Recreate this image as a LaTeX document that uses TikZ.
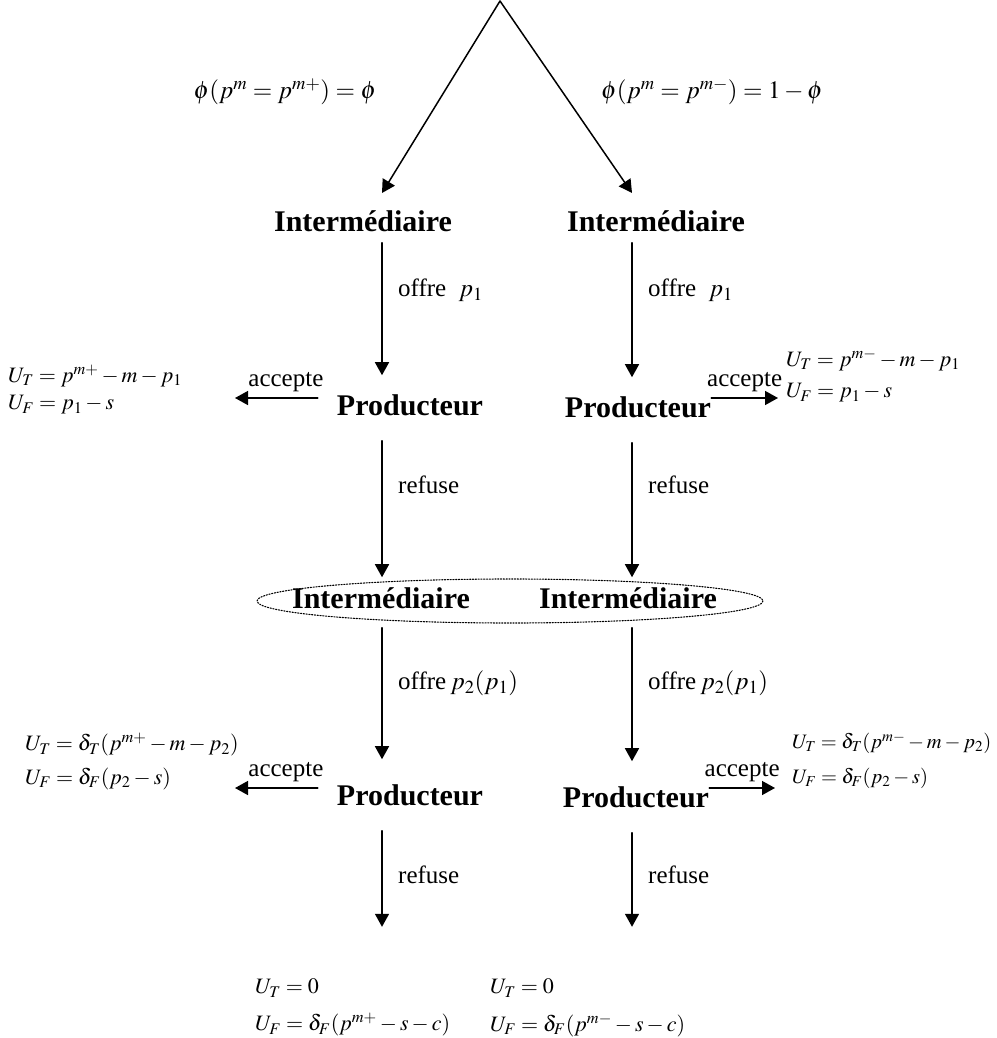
\documentclass[tikz,border=0pt]{standalone}
\usepackage{amsmath}
\usepackage{mathptmx}
\usepackage[no-math]{fontspec}
\setmainfont{Liberation Serif}
\usetikzlibrary{arrows.meta}

\begin{document}
\begin{tikzpicture}[x=1pt,y=-1pt,line cap=round,line join=round,
    >={Triangle[length=13pt,width=14pt]},
    arr/.style={->,line width=1.5pt},
    actor/.style={font=\fontsize{30}{34}\selectfont\bfseries,inner sep=0pt},
    lab/.style={font=\fontsize{25}{28}\selectfont,inner sep=0pt},
    pay/.style={font=\fontsize{22}{26}\selectfont,inner sep=0pt,anchor=west}]
        \useasboundingbox (0,0) rectangle (996,1038);
        % columns of the two branches
        \coordinate (cl) at (382,0);
        \coordinate (cr) at (632,0);
        \coordinate (apex) at (500,1);
        \coordinate (tl) at (382,193);
        \coordinate (tr) at (632,193);
        \node[lab] (phl) at (285,92) {$\phi(p^m = p^{m+}) = \phi$};
        \node[lab] (phr) at (712,92) {$\phi(p^m = p^{m-}) = 1-\phi$};
        \draw [arr] (apex) -- (tl);
        \draw [arr] (apex) -- (tr);
        % first offer
        \node[actor] (int1) at (363,221) {Intermédiaire};
        \node[actor] (int2) at (656,221) {Intermédiaire};
        \node[actor] (pro1) at (410,405) {Producteur};
        \node[actor] (pro2) at (638,407) {Producteur};
        \draw [arr,shorten <=11pt,shorten >=19pt] (int1.south -| cl) -- (pro1.north -| cl);
        \draw [arr,shorten <=11pt,shorten >=19pt] (int2.south -| cr) -- (pro2.north -| cr);
        \node[lab,anchor=west] (of1) at (398,290) {offre\enspace$p_1$};
        \node[lab,anchor=west] (of2) at (648,290) {offre\enspace$p_1$};
        \coordinate (al1) at (235,398);
        \coordinate (ar1) at (778,398);
        \draw [arr,shorten <=19pt] (pro1.west |- al1) -- node[lab,above=5pt] (acc1) {accepte} (al1);
        \draw [arr] (pro2.east |- ar1) -- node[lab,above=5pt] (acc2) {accepte} (ar1);
        \node[pay] (ut1) at (8,376) {$U_T = p^{m+} - m - p_1$};
        \node[pay] (uf1) at (8,405) {$U_F = p_1 - s$};
        \node[pay] (ut2) at (786,360) {$U_T = p^{m-} - m - p_1$};
        \node[pay] (uf2) at (786,393) {$U_F = p_1 - s$};
        % second offer
        \node[actor] (int3) at (381,598) {Intermédiaire};
        \node[actor] (int4) at (628,598) {Intermédiaire};
        \draw [dash pattern=on 1.2pt off 1.6pt,line width=1.1pt] (510,601) ellipse [x radius=253,y radius=22];
        \draw [arr,shorten <=25pt,shorten >=10pt] (pro1.south -| cl) -- (int3.north -| cl);
        \draw [arr,shorten <=25pt,shorten >=10pt] (pro2.south -| cr) -- (int4.north -| cr);
        \node[lab,anchor=west] (rf1) at (398,485) {refuse};
        \node[lab,anchor=west] (rf2) at (648,485) {refuse};
        \node[actor] (pro3) at (410,795) {Producteur};
        \node[actor] (pro4) at (636,797) {Producteur};
        \draw [arr,shorten <=19pt,shorten >=25pt] (int3.south -| cl) -- (pro3.north -| cl);
        \draw [arr,shorten <=19pt,shorten >=25pt] (int4.south -| cr) -- (pro4.north -| cr);
        \node[lab,anchor=west] (of3) at (398,683) {offre\,$p_2(p_1)$};
        \node[lab,anchor=west] (of4) at (648,683) {offre\,$p_2(p_1)$};
        \coordinate (al2) at (235,788);
        \coordinate (ar2) at (775,788);
        \draw [arr,shorten <=19pt] (pro3.west |- al2) -- node[lab,above=5pt] (acc3) {accepte} (al2);
        \draw [arr] (pro4.east |- ar2) -- node[lab,above=5pt] (acc4) {accepte} (ar2);
        \node[pay] (ut3) at (25,745) {$U_T = \delta_T(p^{m+} - m - p_2)$};
        \node[pay] (uf3) at (25,779) {$U_F = \delta_F(p_2 - s)$};
        \node[pay,font=\fontsize{20.5}{24}\selectfont] (ut4) at (792,743) {$U_T = \delta_T(p^{m-} - m - p_2)$};
        \node[pay,font=\fontsize{20.5}{24}\selectfont] (uf4) at (792,778) {$U_F = \delta_F(p_2 - s)$};
        % end of the game
        \node[pay] (ut5) at (255,988) {$U_T = 0$};
        \node[pay] (uf5) at (255,1025) {$U_F = \delta_F(p^{m+} - s - c)$};
        \node[pay] (ut6) at (490,988) {$U_T = 0$};
        \node[pay] (uf6) at (490,1025) {$U_F = \delta_F(p^{m-} - s - c)$};
        \draw [arr,shorten <=25pt,shorten >=52pt] (pro3.south -| cl) -- (ut5.north -| cl);
        \draw [arr,shorten <=25pt,shorten >=52pt] (pro4.south -| cr) -- (ut6.north -| cr);
        \node[lab,anchor=west] (rf3) at (398,875) {refuse};
        \node[lab,anchor=west] (rf4) at (648,875) {refuse};
\end{tikzpicture}
\end{document}
